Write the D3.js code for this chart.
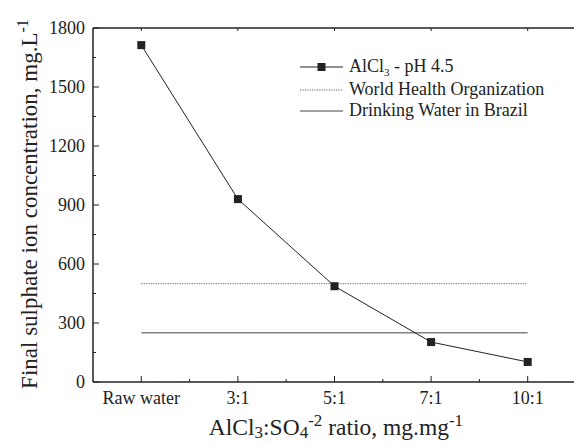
<!DOCTYPE html>
<html lang="en">
<head>
<meta charset="UTF-8">
<script src="https://d3js.org/d3.v7.min.js"></script>
<style>
    body { margin: 0; background: #fff; }
</style>
</head>
<body>
<svg width="574" height="444" font-family="'Liberation Serif', 'Times New Roman', Tinos, 'DejaVu Serif', serif"></svg>
<script>
    // data
    const categories = ["Raw water", "3:1", "5:1", "7:1", "10:1"];
    const alcl3Values = [1713, 930, 487, 203, 102];
    const whoLimit = 500;
    const brazilLimit = 250;
    const yTicks = [0, 300, 600, 900, 1200, 1500, 1800];

    const svg = d3.select("svg");
    const plotLeft = 93, plotRight = 576, plotTop = 28, plotBottom = 382;
    const ink = "#222";

    const x = d3.scalePoint().domain(categories).range([plotLeft, plotRight]).padding(0.5);
    const y = d3.scaleLinear().domain([0, 1800]).range([plotBottom, plotTop]);
    const step = x.step();

    // frame lines (left + top + bottom)
    svg.append("line").attr("x1", plotLeft).attr("x2", plotRight).attr("y1", plotBottom).attr("y2", plotBottom)
        .attr("stroke", ink).attr("stroke-width", 1.5);
    svg.append("line").attr("x1", plotLeft).attr("x2", plotRight).attr("y1", plotTop).attr("y2", plotTop)
        .attr("stroke", ink).attr("stroke-width", 1.5);
    svg.append("line").attr("x1", plotLeft).attr("x2", plotLeft).attr("y1", plotTop).attr("y2", plotBottom)
        .attr("stroke", ink).attr("stroke-width", 1.5);

    // y ticks: major + minor inward
    yTicks.forEach(function(t, i) {
        svg.append("line").attr("x1", plotLeft).attr("x2", plotLeft + 6)
            .attr("y1", y(t)).attr("y2", y(t)).attr("stroke", ink).attr("stroke-width", 1);
        svg.append("text").attr("x", plotLeft - 8).attr("y", y(t) + 6)
            .attr("text-anchor", "end").attr("font-size", 18).attr("fill", ink).text(t);
        if (i < yTicks.length - 1) {
            const m = (t + yTicks[i + 1]) / 2;
            svg.append("line").attr("x1", plotLeft).attr("x2", plotLeft + 3)
                .attr("y1", y(m)).attr("y2", y(m)).attr("stroke", ink).attr("stroke-width", 1);
        }
    });

    // x ticks: major at categories, minor between
    categories.forEach(function(c, i) {
        const cx = x(c);
        svg.append("line").attr("x1", cx).attr("x2", cx).attr("y1", plotBottom).attr("y2", plotBottom - 6)
            .attr("stroke", ink).attr("stroke-width", 1);
        svg.append("line").attr("x1", cx).attr("x2", cx).attr("y1", plotTop).attr("y2", plotTop + 3)
            .attr("stroke", ink).attr("stroke-width", 1);
        svg.append("line").attr("x1", cx + step / 2).attr("x2", cx + step / 2)
            .attr("y1", plotBottom).attr("y2", plotBottom - 3).attr("stroke", ink).attr("stroke-width", 1);
        svg.append("text").attr("x", cx).attr("y", 404)
            .attr("text-anchor", "middle").attr("font-size", 18).attr("fill", ink).text(c);
    });

    // reference lines
    const first = x(categories[0]), last = x(categories[categories.length - 1]);
    svg.append("line").attr("x1", first).attr("x2", last)
        .attr("y1", y(whoLimit)).attr("y2", y(whoLimit))
        .attr("stroke", "#666").attr("stroke-width", 1).attr("stroke-dasharray", "1.2,1.2");
    svg.append("line").attr("x1", first).attr("x2", last)
        .attr("y1", y(brazilLimit)).attr("y2", y(brazilLimit))
        .attr("stroke", "#444").attr("stroke-width", 1);

    // series
    const pts = categories.map(function(c, i) { return { c: c, v: alcl3Values[i] }; });
    svg.append("path").datum(pts)
        .attr("fill", "none").attr("stroke", ink).attr("stroke-width", 1)
        .attr("d", d3.line().x(d => x(d.c)).y(d => y(d.v)));
    svg.selectAll(".pt").data(pts).enter().append("rect")
        .attr("x", d => x(d.c) - 4).attr("y", d => y(d.v) - 4)
        .attr("width", 8).attr("height", 8).attr("fill", ink);

    // legend
    const lx1 = 300, lx2 = 343, tx = 349;
    const rows = [67, 90, 111];
    svg.append("line").attr("x1", lx1).attr("x2", lx2).attr("y1", rows[0]).attr("y2", rows[0])
        .attr("stroke", ink).attr("stroke-width", 1);
    svg.append("rect").attr("x", (lx1 + lx2) / 2 - 4).attr("y", rows[0] - 4)
        .attr("width", 8).attr("height", 8).attr("fill", ink);
    svg.append("line").attr("x1", lx1).attr("x2", lx2).attr("y1", rows[1]).attr("y2", rows[1])
        .attr("stroke", "#666").attr("stroke-width", 1).attr("stroke-dasharray", "1.2,1.2");
    svg.append("line").attr("x1", lx1).attr("x2", lx2).attr("y1", rows[2]).attr("y2", rows[2])
        .attr("stroke", "#444").attr("stroke-width", 1);

    const t0 = svg.append("text").attr("x", tx).attr("y", rows[0] + 5)
        .attr("font-size", 18).attr("fill", ink);
    t0.append("tspan").text("AlCl");
    t0.append("tspan").attr("font-size", 11).attr("dy", 4).text("3");
    t0.append("tspan").attr("dy", -4).text(" - pH 4.5");
    svg.append("text").attr("x", tx).attr("y", rows[1] + 5)
        .attr("font-size", 18).attr("fill", ink).text("World Health Organization");
    svg.append("text").attr("x", tx).attr("y", rows[2] + 5)
        .attr("font-size", 18).attr("fill", ink).text("Drinking Water in Brazil");

    // x axis title
    const xt = svg.append("text").attr("x", 336).attr("y", 435)
        .attr("text-anchor", "middle").attr("font-size", 23.5).attr("fill", ink);
    xt.append("tspan").text("AlCl");
    xt.append("tspan").attr("font-size", 17).attr("dy", 3).text("3");
    xt.append("tspan").attr("dy", -3).text(":SO");
    xt.append("tspan").attr("font-size", 17).attr("dy", 3).text("4");
    xt.append("tspan").attr("font-size", 17).attr("dy", -12).text("-2");
    xt.append("tspan").attr("dy", 9).text(" ratio, mg.mg");
    xt.append("tspan").attr("font-size", 17).attr("dy", -9).text("-1");

    // y axis title
    const yt = svg.append("text").attr("transform", "translate(37," + ((plotTop + plotBottom) / 2 - 1) + ") rotate(-90)")
        .attr("text-anchor", "middle").attr("font-size", 23).attr("fill", ink);
    yt.append("tspan").text("Final sulphate ion concentration, mg.L");
    yt.append("tspan").attr("font-size", 16).attr("dy", -9).text("-1");
</script>
</body>
</html>
